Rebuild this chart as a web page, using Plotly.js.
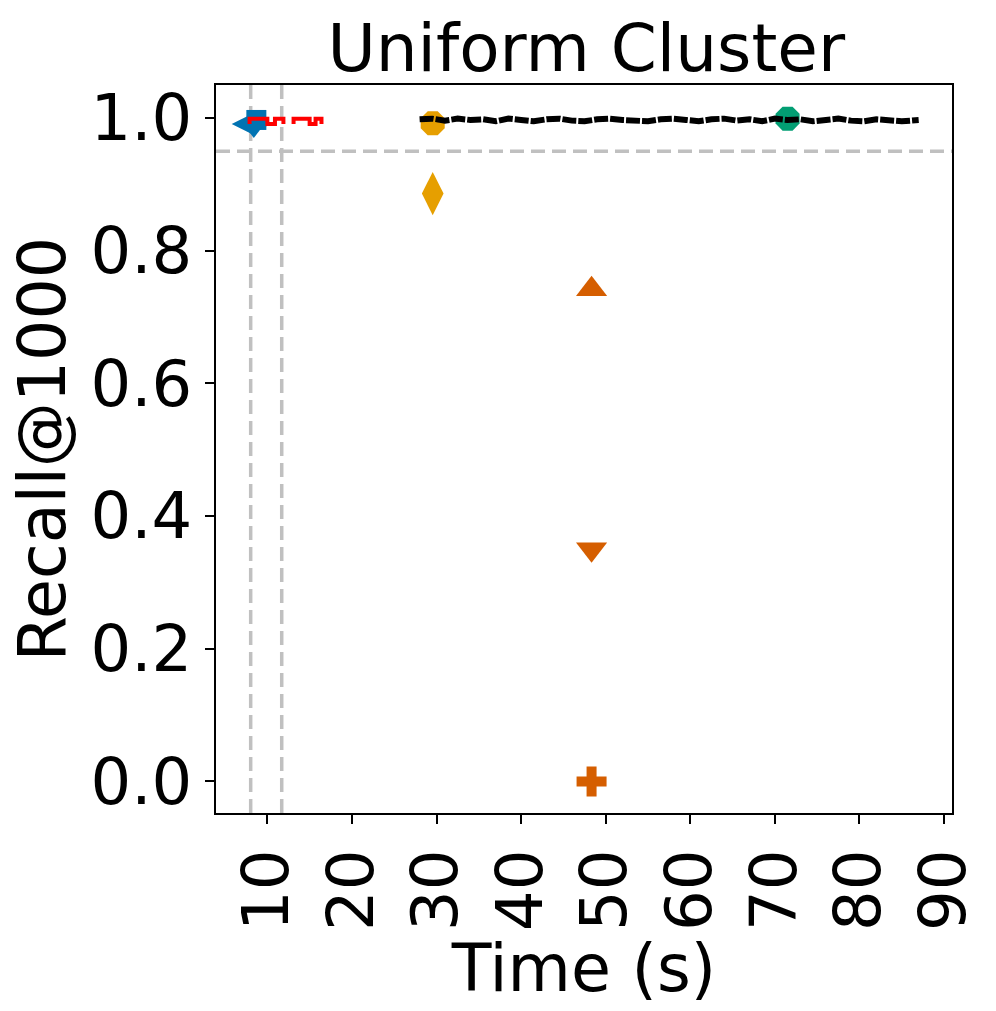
<!DOCTYPE html>
<html>
<head>
<meta charset="utf-8">
<script src="https://cdn.plot.ly/plotly-3.0.1.min.js"></script>
<style>html,body{margin:0;padding:0;background:#fff;}#chart{width:996px;height:1011px;}</style>
</head>
<body>
<div id="chart"></div>
<script>
// ---- data ----
const chartTitle = "Uniform Cluster";
const xLabel = "Time (s)";
const yLabel = "Recall@1000";
const xTicks = [10, 20, 30, 40, 50, 60, 70, 80, 90];
const yTicks = [0.0, 0.2, 0.4, 0.6, 0.8, 1.0];

// reference lines
const vLines = [8.03, 11.7];
const hLines = [0.95];

// blue method (overlapping markers)
const blueX = [8.1, 8.7, 8.4];
const blueY = [0.991, 0.997, 0.988];

// gold method
const goldCircleX = [29.55];
const goldCircleY = [0.992];
const goldDiamondX = [29.55];
const goldDiamondY = [0.886];

// vermilion method
const verUpX = [48.33];
const verUpY = [0.742];
const verDownX = [48.33];
const verDownY = [0.35];
const verPlusX = [48.33];
const verPlusY = [0.0];

// green method
const greenX = [71.5];
const greenY = [0.999];

// red trajectory
const redX = [7.9, 7.9, 10.0, 10.0, 10.9, 10.9, 11.9, 11.9, null, 13.1, 13.1, 15.0, 15.0, 15.7, 15.7, 16.4, 16.4];
const redY = [0.991, 0.999, 0.999, 0.991, 0.991, 0.999, 0.999, 0.991, null, 0.991, 0.999, 0.999, 0.991, 0.991, 0.999, 0.999, 0.991];

// black trajectory
const blackX = [28.0, 29.5, 31.0, 32.5, 34.0, 35.5, 37.0, 38.5, 40.0, 41.5, 43.0, 44.5, 46.0, 47.5, 49.0, 50.5, 52.0, 53.5, 55.0, 56.5, 58.0, 59.5, 61.0, 62.5, 64.0, 65.5, 67.0, 68.5, 70.0, 71.5, 73.0, 74.5, 76.0, 77.5, 79.0, 80.5, 82.0, 83.5, 85.0, 87.0];
const blackY = [0.998, 0.999, 0.996, 0.999, 0.997, 0.998, 0.995, 0.999, 0.997, 0.995, 0.998, 0.999, 0.996, 0.995, 0.998, 0.999, 0.997, 0.996, 0.995, 0.998, 0.999, 0.997, 0.995, 0.998, 0.999, 0.996, 0.998, 0.995, 0.999, 0.997, 0.998, 0.995, 0.997, 0.999, 0.996, 0.995, 0.998, 0.997, 0.995, 0.997];

// ---- plot ----
const FONT = "DejaVu Sans, Liberation Sans, sans-serif";
const C_BLUE = "#0173b2", C_GOLD = "#e69f00", C_VER = "#d55e00", C_GREEN = "#029e73";

function mk(x, y, color, symbol, size) {
  return {x: x, y: y, type: "scatter", mode: "markers", hoverinfo: "skip",
    marker: {color: color, symbol: symbol, size: size, line: {width: 0}}};
}

const traces = [
  mk(blueX.slice(0,1), blueY.slice(0,1), C_BLUE, "diamond-wide", 28),
  mk(blueX.slice(1,2), blueY.slice(1,2), C_BLUE, "square", 20),
  mk(blueX.slice(2), blueY.slice(2), C_BLUE, "triangle-down", 24),
  mk(goldCircleX, goldCircleY, C_GOLD, "octagon", 26),
  mk(goldDiamondX, goldDiamondY, C_GOLD, "diamond-tall", 31),
  mk(verUpX, verUpY, C_VER, "triangle-up", 27),
  mk(verDownX, verDownY, C_VER, "triangle-down", 27),
  mk(verPlusX, verPlusY, C_VER, "cross", 25),
  mk(greenX, greenY, C_GREEN, "octagon", 26),
  {x: redX, y: redY, type: "scatter", mode: "lines", hoverinfo: "skip", connectgaps: false,
    line: {color: "#ff0000", width: 4}},
  {x: blackX, y: blackY, type: "scatter", mode: "lines", hoverinfo: "skip",
    line: {color: "#000000", width: 6, dash: "14px,2px"}}
];

const shapes = [];
vLines.forEach(v => shapes.push({type: "line", xref: "x", yref: "paper", x0: v, x1: v, y0: 0, y1: 1,
  line: {color: "#c0c0c0", width: 3.5, dash: "14px,7px"}, layer: "below"}));
hLines.forEach(h => shapes.push({type: "line", xref: "paper", yref: "y", x0: 0, x1: 1, y0: h, y1: h,
  line: {color: "#c0c0c0", width: 3.5, dash: "14px,7px"}, layer: "below"}));

const layout = {
  width: 996, height: 1011,
  margin: {l: 216, r: 44, t: 85, b: 198},
  paper_bgcolor: "#ffffff", plot_bgcolor: "#ffffff",
  showlegend: false,
  font: {family: FONT, color: "#000", size: 64},
  title: {text: chartTitle, font: {family: FONT, size: 66, color: "#000"},
    x: 0.5886, xanchor: "center", xref: "container", y: 0.953, yanchor: "middle", yref: "container"},
  xaxis: {
    range: [3.93, 90.94], tickvals: xTicks, ticktext: xTicks.map(String), tickangle: -90,
    showgrid: false, zeroline: false, showline: true, mirror: true, linecolor: "#000", linewidth: 2,
    ticks: "outside", ticklen: 9, tickwidth: 2, tickcolor: "#000",
    tickfont: {family: FONT, size: 64, color: "#000"},
    title: {text: xLabel, font: {family: FONT, size: 65, color: "#000"}, standoff: 6}
  },
  yaxis: {
    range: [-0.0476, 1.0497], tickvals: yTicks, ticktext: yTicks.map(v => v.toFixed(1)),
    showgrid: false, zeroline: false, showline: true, mirror: true, linecolor: "#000", linewidth: 2,
    ticks: "outside", ticklen: 9, tickwidth: 2, tickcolor: "#000",
    tickfont: {family: FONT, size: 64, color: "#000"},
    title: {text: yLabel, font: {family: FONT, size: 65, color: "#000"}, standoff: 4}
  },
  shapes: shapes
};

Plotly.newPlot("chart", traces, layout, {staticPlot: true, displayModeBar: false});
</script>
</body>
</html>
